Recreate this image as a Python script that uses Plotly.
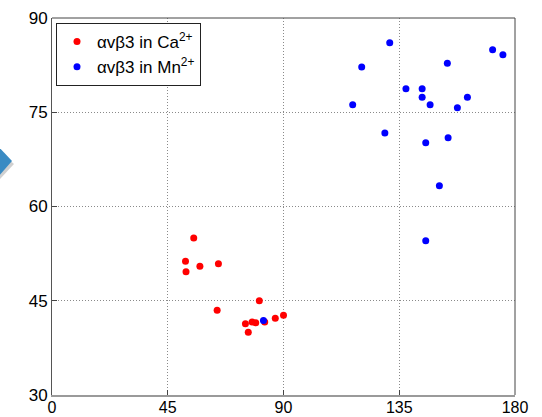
import plotly.graph_objects as go

# Data
ca_x = [55.1, 51.9, 52.1, 57.5, 64.7, 64.2, 80.6, 75.2, 76.3, 77.8, 79.2, 82.7, 86.8, 90.0]
ca_y = [55.0, 51.3, 49.6, 50.5, 50.9, 43.5, 45.0, 41.35, 40.0, 41.6, 41.5, 41.6, 42.2, 42.7]

mn_x = [131.3, 120.4, 116.9, 129.4, 137.6, 143.9, 143.9, 147.0, 153.7, 161.5,
        157.6, 171.3, 175.3, 145.3, 154.0, 150.6, 145.3, 82.2]
mn_y = [86.07, 82.2, 76.2, 71.7, 78.75, 78.75, 77.4, 76.2, 82.8, 77.4,
        75.7, 84.95, 84.16, 70.15, 70.95, 63.3, 54.55, 41.87]

ca_name = "\u03b1v\u03b23 in Ca<sup>2+</sup>"
mn_name = "\u03b1v\u03b23 in Mn<sup>2+</sup>"

x_ticks = [0, 45, 90, 135, 180]
y_ticks = [30, 45, 60, 75, 90]

W, H = 542, 417
L, R, T, B = 52, 27, 18, 22
PW, PH = W - L - R, H - T - B


def px(x):
    return (x - L) / PW


def py(y):
    return 1 - (y - T) / PH


fig = go.Figure()
fig.add_trace(go.Scatter(x=ca_x, y=ca_y, mode="markers", name=ca_name,
                         marker=dict(color="#ff0000", size=7)))
fig.add_trace(go.Scatter(x=mn_x, y=mn_y, mode="markers", name=mn_name,
                         marker=dict(color="#0000ff", size=7)))

axis_font = dict(family="Liberation Sans, Arial, sans-serif", size=16, color="black")

fig.update_xaxes(range=[0, 180], tickvals=x_ticks, ticks="inside", ticklen=5,
                 tickcolor="#444", showgrid=True, gridcolor="#8a8a8a", griddash="1px,2px",
                 gridwidth=1, showline=True, linecolor="#9a9a9a", linewidth=2,
                 zeroline=False, tickfont=axis_font, fixedrange=True,
                 automargin=False, ticklabelstandoff=-3)
fig.update_yaxes(range=[30, 90], tickvals=y_ticks, ticks="inside", ticklen=5,
                 tickcolor="#444", showgrid=True, gridcolor="#8a8a8a", griddash="1px,2px",
                 gridwidth=1, showline=True, linecolor="#555", linewidth=1,
                 zeroline=False, tickfont=dict(axis_font, size=17), fixedrange=True,
                 automargin=False, ticklabelstandoff=0)

shapes = [
    # top and right frame lines
    dict(type="line", xref="paper", yref="paper", x0=0, x1=1, y0=1, y1=1,
         line=dict(color="#444", width=1)),
    dict(type="line", xref="paper", yref="paper", x0=1, x1=1, y0=0, y1=1,
         line=dict(color="#444", width=1)),
    # decorative arrow shadow and arrow at left edge
    dict(type="path", xref="paper", yref="paper",
         path=f"M {px(-2)},{py(150)} L {px(14)},{py(164)} L {px(-2)},{py(181)} Z",
         fillcolor="rgba(120,120,120,0.35)", line=dict(width=0), layer="below"),
    dict(type="path", xref="paper", yref="paper",
         path=f"M {px(-2)},{py(146)} L {px(12)},{py(161)} L {px(-2)},{py(177)} Z",
         fillcolor="#3a8bc3", line=dict(width=0), layer="below"),
]

fig.update_layout(
    width=W, height=H,
    margin=dict(l=L, r=R, t=T, b=B, autoexpand=False),
    plot_bgcolor="white", paper_bgcolor="white",
    showlegend=True,
    legend=dict(x=px(56), y=py(23), xanchor="left", yanchor="top",
                bordercolor="#222", borderwidth=1, bgcolor="white",
                font=dict(family="Liberation Sans, Arial, sans-serif", size=17, color="black"),
                itemwidth=30, tracegroupgap=4),
    shapes=shapes,
)

fig.write_html("out.html", config={"displayModeBar": False},
               post_script="document.body.style.margin='0';document.body.style.overflow='hidden';")
